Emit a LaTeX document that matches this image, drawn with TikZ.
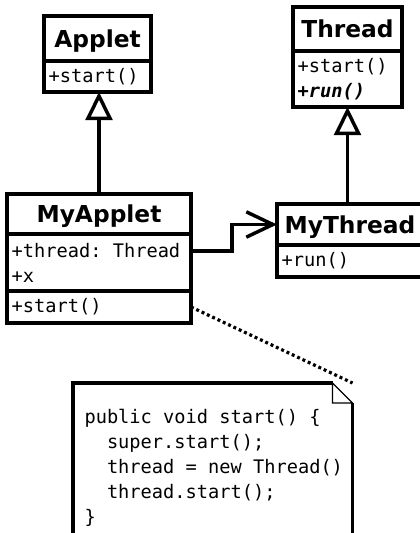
\documentclass[tikz,border=0pt]{standalone}
\usepackage{fontspec}
\setmainfont{DejaVu Sans}
\setmonofont{DejaVu Sans Mono}
\usetikzlibrary{positioning,arrows.meta}

\tikzset{
  umlbox/.style={draw, line width=2.6pt, outer sep=0pt, inner sep=0pt},
  classname/.style={umlbox, font=\fontsize{17.5}{20}\selectfont\bfseries, text depth=0pt},
  codetext/.style={font=\fontsize{14}{18.75}\selectfont\ttfamily, align=left,
    execute at begin node={\spaceskip=0pt\xspaceskip=0pt\frenchspacing}},
  members/.style={umlbox, codetext, inner xsep=3.5pt},
  note/.style={codetext, inner xsep=0pt, inner ysep=19.5pt, minimum width=209.25pt},
  notebox/.style={line width=2.6pt},
  notelink/.style={line width=2.4pt, dash pattern=on 2.2pt off 2.2pt},
  inherit/.style={line width=2.6pt, -{Triangle[open, length=21pt, width=20pt]}},
  assoc/.style={line width=2.6pt, -{Straight Barb[length=20pt, width=19pt]}},
}

\begin{document}
\begin{tikzpicture}[x=0.75pt, y=-0.75pt, node distance=0pt]
    \useasboundingbox (0,0) rectangle (419,533);

    % Classes {name, attributes, operations}
    \node [classname, anchor=north west, minimum width=80.25pt, minimum height=33.75pt] (applet)   at (44,16)  {Applet};
    \node [members, below=of applet, text width=73.25pt, minimum height=23.25pt]         (appletops)            {+start()};

    \node [classname, anchor=north west, minimum width=81.75pt, minimum height=33pt]    (thread)   at (293,7)  {Thread};
    \node [members, below=of thread, text width=74.75pt, minimum height=42pt]           (threadops)            {+start()\\\textbf{\textit{+run()}}};

    \node [classname, anchor=north west, minimum width=138pt, minimum height=30pt]      (myapplet) at (7,194)  {MyApplet};
    \node [members, below=of myapplet, text width=131pt, minimum height=42.75pt]        (myappletattrs)        {+thread: Thread\\+x};
    \node [members, below=of myappletattrs, text width=131pt, minimum height=24pt]      (myappletops)          {+start()};

    \node [classname, anchor=north west, minimum width=109.5pt, minimum height=30.75pt] (mythread) at (277,204) {MyThread};
    \node [members, below=of mythread, text width=102.5pt, minimum height=24pt]         (mythreadops)          {+run()};

    % Note with folded corner
    \node [note, anchor=north west] (note) at (73,383)
        {\hspace*{1.5pt}public void start() \{\\
         \hspace*{1.5pt}\phantom{xx}super.start();\\
         \hspace*{1.5pt}\phantom{xx}thread = new Thread()\\
         \hspace*{1.5pt}\phantom{xx}thread.start();\\
         \hspace*{1.5pt}\}};
    \coordinate (foldtop)   at ([xshift=-15pt]note.north east);
    \coordinate (foldright) at ([yshift=-15pt]note.north east);
    \draw [notebox] (note.south west) -- (note.north west) -- (foldtop);
    \draw [notebox] (foldright) -- (note.south east);
    \draw [line width=1pt] (foldtop) -- (foldright) -| (foldtop);

    % Paths
    \draw [inherit]  (myapplet.north) -- (myapplet.north |- appletops.south);
    \draw [inherit]  (mythread.north -| threadops.south) -- (threadops.south);

    \coordinate (threadrow) at ([yshift=8.6pt]myappletattrs.east);
    \draw [assoc]    (threadrow) -- ++(30.75pt,0) |- (mythread.west);

    \draw [notelink] (myappletops.east) -- (note.north east);

\end{tikzpicture}
\end{document}
